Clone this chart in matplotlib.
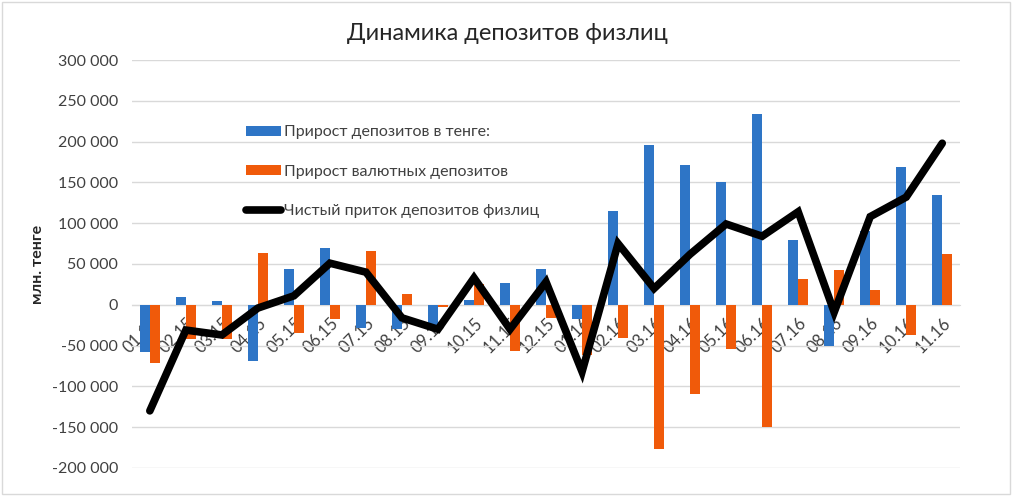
import numpy as np
import matplotlib.pyplot as plt
from matplotlib.patches import Rectangle
from matplotlib.ticker import FuncFormatter

plt.rcParams["font.family"] = ["Lato", "DejaVu Sans"]

months = ["01.15", "02.15", "03.15", "04.15", "05.15", "06.15", "07.15", "08.15",
          "09.15", "10.15", "11.15", "12.15", "01.16", "02.16", "03.16", "04.16",
          "05.16", "06.16", "07.16", "08.16", "09.16", "10.16", "11.16"]
tenge = [-58000, 10000, 5000, -69000, 44000, 69000, -28000, -30000,
         -27000, 6000, 27000, 44000, -18000, 115000, 196000, 171000,
         151000, 234000, 79000, -50000, 91000, 169000, 134000]
fx = [-71000, -42000, -42000, 64000, -34000, -18000, 66000, 13000,
      -3000, 26000, -57000, -16000, -62000, -41000, -177000, -109000,
      -54000, -150000, 32000, 43000, 18000, -37000, 62000]
net = [-130000, -31000, -37000, -4000, 11000, 51000, 40000, -16000,
       -30000, 33000, -30000, 28000, -82000, 75000, 20000, 62000,
       99000, 84000, 114000, -9000, 108000, 132000, 198000]

blue = "#2E75C6"
orange = "#F05A0A"
grey = "#404040"

fig = plt.figure(figsize=(10.14, 4.96), dpi=100)
ax = fig.add_axes([0.130, 0.0565, 0.817, 0.8225])

x = np.arange(len(months))
w = 0.28
b1 = ax.bar(x - w / 2, tenge, w, color=blue, label="Прирост депозитов в тенге:", zorder=2)
b2 = ax.bar(x + w / 2, fx, w, color=orange, label="Прирост валютных депозитов", zorder=2)
l1, = ax.plot(x, net, color="black", lw=5.5, label="Чистый приток депозитов физлиц",
              solid_joinstyle="miter", solid_capstyle="round", zorder=3)

ax.set_xlim(-0.5, len(months) - 0.5)
ax.set_ylim(-200000, 300000)
ax.set_yticks(np.arange(-200000, 300001, 50000))
ax.yaxis.set_major_formatter(FuncFormatter(lambda v, p: f"{int(v):,}".replace(",", " ")))
ax.grid(axis="y", color="#d9d9d9", lw=1, zorder=0)

for s in ["top", "right", "left"]:
    ax.spines[s].set_visible(False)
ax.spines["bottom"].set_position(("data", 0))
ax.spines["bottom"].set_color("#d9d9d9")
ax.spines["bottom"].set_zorder(1)
ax.xaxis.set_zorder(1.5)

ax.set_xticks(x)
ax.set_xticklabels(months, rotation=45, ha="right", va="top", rotation_mode="anchor")
ax.tick_params(axis="x", length=0, pad=7, labelsize=12, colors=grey)
ax.tick_params(axis="y", length=0, pad=10, labelsize=11.5, colors=grey)

ax.set_ylabel("млн. тенге", fontsize=11.5, fontweight="bold", color="#262626", labelpad=5)

fig.text(0.5, 0.933, "Динамика депозитов физлиц", ha="center", va="center",
         fontsize=17, color="#262626")

leg = ax.legend([b1, b2, l1], [b1.get_label(), b2.get_label(), l1.get_label()],
                loc="upper left", bbox_to_anchor=(0.12, 0.875), frameon=False,
                fontsize=11.5, labelspacing=1.6, handlelength=2.2, handleheight=0.6,
                handletextpad=0.2, labelcolor=grey)

fig.patches.append(Rectangle((0.002, 0.004), 0.994, 0.992, transform=fig.transFigure,
                             fill=False, edgecolor="#d9d9d9", lw=1))

fig.savefig("out.png", dpi=100)
